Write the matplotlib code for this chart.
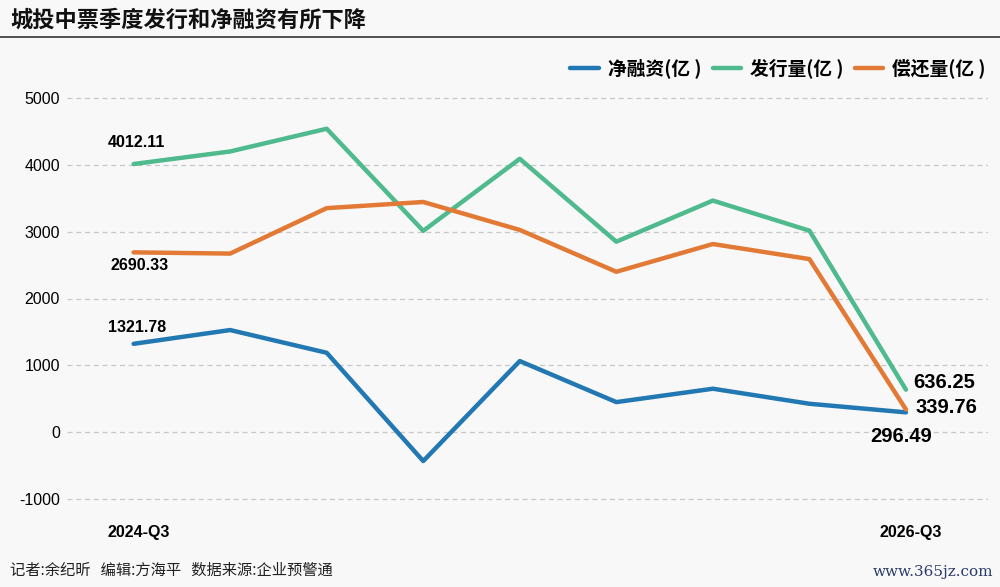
import matplotlib.pyplot as plt

plt.rcParams['font.family'] = ['Noto Sans CJK SC', 'DejaVu Sans']

quarters = ['2024-Q3', '2024-Q4', '2025-Q1', '2025-Q2', '2025-Q3',
            '2025-Q4', '2026-Q1', '2026-Q2', '2026-Q3']
issue = [4012.11, 4200, 4540, 3012, 4090, 2850, 3465, 3015, 636.25]
repay = [2690.33, 2672, 3352, 3444, 3026, 2400, 2815, 2590, 339.76]
net = [1321.78, 1528, 1188, -432, 1064, 450, 650, 425, 296.49]

names = ['净融资(亿 )', '发行量(亿 )', '偿还量(亿 )']
colors = ['#2278b2', '#4fba8e', '#e27a36']
yticks = [-1000, 0, 1000, 2000, 3000, 4000, 5000]

bg = '#f8f8f8'
num_font = ['Liberation Sans', 'DejaVu Sans']

fig = plt.figure(figsize=(10, 5.87), dpi=100, facecolor=bg)
H = 587
ylo, yhi = -1100, 5100
px = 401 / 6000
top_px = 98 - (yhi - 5000) * px
bot_px = 499 + (-1000 - ylo) * px
ax = fig.add_axes([0.067, 1 - bot_px / H, 0.921, (bot_px - top_px) / H])
ax.set_facecolor(bg)

x = list(range(len(quarters)))
for vals, name, c in zip([net, issue, repay], names, colors):
    ax.plot(x, vals, color=c, lw=3.2, label=name, solid_capstyle='round', zorder=3)

ax.set_xlim(-0.69, 8.85)
ax.set_ylim(ylo, yhi)
ax.set_yticks(yticks)
ax.set_yticklabels([str(v) for v in yticks], fontsize=11.5, family=num_font)
ax.set_xticks([0.05, 8.05])
ax.set_xticklabels([quarters[0], quarters[-1]], fontsize=11.5, fontweight='bold', family=num_font)
ax.tick_params(length=0)
ax.tick_params(axis='x', pad=14)
ax.tick_params(axis='y', pad=5)
ax.grid(axis='y', color='#c8c8c8', ls=(0, (4, 3)), lw=0.9)
for s in ax.spines.values():
    s.set_visible(False)

# data labels at the first and last quarter
labels = [
    (0, issue[0], -26, 22, 11.5),
    (0, repay[0], -23, -13, 11.5),
    (0, net[0], -26, 16, 11.5),
    (8, issue[-1], 7, 7, 14.5),
    (8, repay[-1], 10, 2, 14.5),
    (8, net[-1], -36, -24, 14.5),
]
for xi, v, dx, dy, fs in labels:
    ax.annotate(f'{v:.2f}', (xi, v), xytext=(dx, dy), textcoords='offset pixels',
                fontsize=fs, fontweight='bold', family=num_font, va='center', ha='left')

ax.legend(loc='lower right', bbox_to_anchor=(1.012, 1.0), ncol=3, frameon=False,
          handlelength=1.5, columnspacing=0.6, handletextpad=0.5, borderaxespad=0.3,
          prop={'size': 13.5, 'weight': 'bold'})

fig.text(0.01, 1 - 20 / H, '城投中票季度发行和净融资有所下降', fontsize=16, fontweight='bold',
         va='center', ha='left', color='#111111')
fig.add_artist(plt.Line2D([0, 1], [1 - 37 / H, 1 - 37 / H], color='#444444', lw=1.3))
fig.text(0.01, 1 - 570 / H, '记者:余纪昕   编辑:方海平   数据来源:企业预警通', fontsize=11,
         va='center', ha='left', color='#222222')
fig.text(0.993, 1 - 572 / H, 'www.365jz.com', fontsize=11, va='center', ha='right',
         color='#2a3a6a', family=['DejaVu Serif'])

fig.savefig('out.png', dpi=100, facecolor=bg)
